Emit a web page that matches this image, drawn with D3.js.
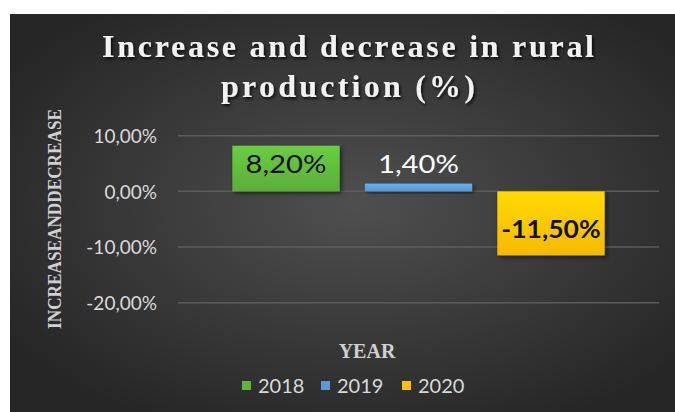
<!DOCTYPE html>
<html>
<head>
<meta charset="utf-8">
<script src="https://cdn.jsdelivr.net/npm/d3@7"></script>
<style>
  html, body { margin: 0; padding: 0; background: #ffffff; }
  svg { display: block; }
</style>
</head>
<body>
<svg id="chart" width="675" height="412"></svg>
<script>
// Yearly change in rural production, percent
const years = ["2018", "2019", "2020"];
const changes = [8.2, 1.4, -11.5];
const labels = ["8,20%", "1,40%", "-11,50%"];
const yTicks = [10, 0, -10, -20];
const yTickLabels = ["10,00%", "0,00%", "-10,00%", "-20,00%"];
const colors = ["#5db53a", "#5b9bd5", "#ffc000"];
const titleLines = ["Increase and decrease in rural", "production (%)"];

const svg = d3.select("#chart");
const defs = svg.append("defs");

// dark panel with a soft radial light in the middle
const bg = defs.append("radialGradient").attr("id", "bg")
  .attr("cx", "52%").attr("cy", "48%").attr("r", "62%");
bg.append("stop").attr("offset", "0%").attr("stop-color", "#4f4f4f");
bg.append("stop").attr("offset", "100%").attr("stop-color", "#262626");

const shadow = defs.append("filter").attr("id", "shadow")
  .attr("x", "-20%").attr("y", "-20%").attr("width", "150%").attr("height", "150%");
shadow.append("feDropShadow").attr("dx", 2).attr("dy", 2).attr("stdDeviation", 2)
  .attr("flood-color", "#000").attr("flood-opacity", 0.55);

const tshadow = defs.append("filter").attr("id", "tshadow")
  .attr("x", "-10%").attr("y", "-30%").attr("width", "120%").attr("height", "160%");
tshadow.append("feDropShadow").attr("dx", 1.5).attr("dy", 2).attr("stdDeviation", 1.5)
  .attr("flood-color", "#000").attr("flood-opacity", 0.8);

// bar fills: a little lighter at the top
colors.forEach((c, i) => {
  const g = defs.append("linearGradient").attr("id", "bar" + i)
    .attr("x1", 0).attr("y1", 0).attr("x2", 0).attr("y2", 1);
  g.append("stop").attr("offset", "0%").attr("stop-color", d3.color(c).brighter(0.35));
  g.append("stop").attr("offset", "100%").attr("stop-color", d3.color(c).darker(0.1));
});

svg.append("rect").attr("x", 10).attr("y", 14).attr("width", 665).attr("height", 398)
  .attr("fill", "url(#bg)");

// title
svg.append("g").selectAll("text").data(titleLines).join("text")
  .attr("x", 348).attr("y", (d, i) => 57 + i * 40)
  .attr("text-anchor", "middle")
  .attr("font-family", "Liberation Serif, serif")
  .attr("font-weight", "bold").attr("font-size", 32)
  .attr("fill", "#f2f2f2")
  .attr("textLength", (d, i) => i === 0 ? 492 : 254)
  .attr("lengthAdjust", "spacing")
  .attr("filter", "url(#tshadow)")
  .text(d => d);

// scales
const plot = { left: 178, right: 659 };
const y = d3.scaleLinear().domain([-20, 10]).range([302.7, 135.7]);
const x = d3.scaleBand().domain(years).range([plot.left, plot.right])
  .paddingInner(0.19).paddingOuter(0.41);

// gridlines
svg.append("g").selectAll("line").data(yTicks).join("line")
  .attr("x1", plot.left).attr("x2", plot.right)
  .attr("y1", d => y(d)).attr("y2", d => y(d))
  .attr("stroke", "#5c5c5c").attr("stroke-width", 1.5);

// y axis tick labels
const yAxis = d3.axisLeft(y).tickValues(yTicks)
  .tickFormat((d, i) => yTickLabels[i]).tickSize(0).tickPadding(0);
const yg = svg.append("g").attr("transform", "translate(157,0)").call(yAxis);
yg.select(".domain").remove();
yg.selectAll("text")
  .attr("font-family", "Lato, sans-serif").attr("font-size", 19)
  .attr("fill", "#d9d9d9").attr("dy", "0.35em");

// bars
svg.append("g").selectAll("rect").data(changes).join("rect")
  .attr("x", (d, i) => x(years[i]))
  .attr("width", x.bandwidth())
  .attr("y", d => y(Math.max(0, d)))
  .attr("height", d => Math.abs(y(d) - y(0)))
  .attr("fill", (d, i) => "url(#bar" + i + ")")
  .attr("filter", "url(#shadow)");

// value labels (set slightly wide)
const labelPos = [
  { y: y(changes[0]) + 27, fill: "#111111", weight: "normal", widen: 1.17 },
  { y: y(changes[1]) - 11, fill: "#ffffff", weight: "normal", widen: 1.17 },
  { y: y(changes[2]) - 17, fill: "#111111", weight: "bold", widen: 1.06 }
];
svg.append("g").selectAll("text").data(changes).join("text")
  .attr("x", (d, i) => x(years[i]) + x.bandwidth() / 2)
  .attr("y", (d, i) => labelPos[i].y)
  .attr("text-anchor", "middle")
  .attr("font-family", "Lato, sans-serif").attr("font-size", 25)
  .attr("font-weight", (d, i) => labelPos[i].weight)
  .attr("fill", (d, i) => labelPos[i].fill)
  .text((d, i) => labels[i])
  .each(function (d, i) {
    const w = this.getComputedTextLength();
    d3.select(this).attr("textLength", w * labelPos[i].widen).attr("lengthAdjust", "spacingAndGlyphs");
  });

// axis titles
svg.append("text")
  .attr("transform", "translate(61,219) rotate(-90)")
  .attr("text-anchor", "middle")
  .attr("font-family", "Liberation Serif, serif")
  .attr("font-weight", "bold").attr("font-size", 18)
  .attr("fill", "#d0d0d0")
  .attr("textLength", 220).attr("lengthAdjust", "spacingAndGlyphs")
  .text("INCREASEANDDECREASE");

svg.append("text")
  .attr("x", 367).attr("y", 358)
  .attr("text-anchor", "middle")
  .attr("font-family", "Liberation Serif, serif")
  .attr("font-weight", "bold").attr("font-size", 20)
  .attr("fill", "#d0d0d0")
  .text("YEAR");

// legend
const legendX = [242, 321, 402];
const lg = svg.append("g").selectAll("g").data(years).join("g")
  .attr("transform", (d, i) => `translate(${legendX[i]},381)`);
lg.append("rect").attr("width", 9).attr("height", 9)
  .attr("fill", (d, i) => colors[i]);
lg.append("text").attr("x", 16).attr("y", 12)
  .attr("font-family", "Lato, sans-serif").attr("font-size", 20)
  .attr("fill", "#d9d9d9")
  .text(d => d);
</script>
</body>
</html>
